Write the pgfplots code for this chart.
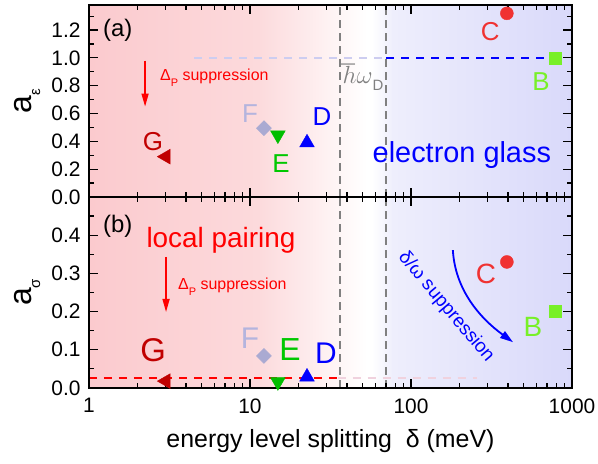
\documentclass[border=0pt]{standalone}
\usepackage{pgfplots}
\pgfplotsset{compat=1.18}
\usepackage{fontspec}
\setmainfont{Liberation Sans}
\usetikzlibrary{arrows.meta}
\newcommand{\fs}[1]{\fontsize{#1}{#1}\selectfont}
\definecolor{bgpink}{RGB}{251,202,206}
\definecolor{bgpinkmid}{RGB}{252,218,220}
\definecolor{bgbluestart}{RGB}{238,238,252}
\definecolor{bgblue}{RGB}{217,217,250}
\definecolor{cG}{RGB}{192,0,0}
\definecolor{cF}{RGB}{170,170,210}
\definecolor{cFt}{RGB}{180,180,222}
\definecolor{cE}{RGB}{0,190,0}
\definecolor{cEt}{RGB}{0,200,0}
\definecolor{cD}{RGB}{0,0,255}
\definecolor{cC}{RGB}{240,50,50}
\definecolor{cB}{RGB}{120,240,40}
\definecolor{dgray}{RGB}{128,128,128}
\definecolor{faintblue}{RGB}{205,205,240}
\definecolor{faintred}{RGB}{240,210,222}
\pgfplotsset{chartpanel/.style={
  scale only axis, width=483bp, xmin=1, xmax=1000,
  axis on top, clip=false,
  axis line style={line width=1.6bp},
  every tick/.style={line width=1.2bp, black},
  tick align=inside,
  major tick length=9bp, minor tick length=5bp,
  xtick={1,10,100,1000},
  minor xtick={2,3,4,5,6,7,8,9,20,30,40,50,60,70,80,90,200,300,400,500,600,700,800,900},
  ticklabel style={font=\fs{21}},
  xticklabel style={yshift=-7bp},
  /pgf/number format/assume math mode=true,
  yticklabel style={xshift=-5bp, /pgf/number format/.cd, fixed, fixed zerofill, precision=1},
  ylabel style={at={(axis description cs:-0.128,0.5)}, anchor=center},
}}
\newcommand{\bgshade}{%
  \shade[left color=bgpink, right color=bgpinkmid] (rel axis cs:0,0) rectangle (rel axis cs:0.35,1);
  \shade[left color=bgpinkmid, right color=white] (rel axis cs:0.349,0) rectangle (rel axis cs:0.575,1);
  \fill[white] (rel axis cs:0.574,0) rectangle (rel axis cs:0.586,1);
  \shade[left color=white, right color=bgbluestart] (rel axis cs:0.585,0) rectangle (rel axis cs:0.63,1);
  \shade[left color=bgbluestart, right color=bgblue] (rel axis cs:0.629,0) rectangle (rel axis cs:1,1);
}
\begin{document}
\begin{tikzpicture}
\begin{semilogxaxis}[chartpanel, name=top, height=192bp, ymin=0, ymax=1.38,
  ytick={0,0.2,0.4,0.6,0.8,1.0,1.2}, minor ytick={0.1,0.3,0.5,0.7,0.9,1.1,1.3},
  xticklabels={},
  ylabel={{\fs{32}a}\raisebox{-9bp}{\fs{15}ε}}]
  \bgshade
  \addplot[dgray, line width=2bp, dash pattern=on 8bp off 5bp] coordinates {(36,0) (36,1.38)};
  \addplot[dgray, line width=2bp, dash pattern=on 8bp off 5bp] coordinates {(70,0) (70,1.38)};
  \addplot[faintblue, line width=1.8bp, dash pattern=on 8bp off 7bp] coordinates {(4.5,1.0) (70,1.0)};
  \addplot[cD, line width=1.8bp, dash pattern=on 8bp off 7bp] coordinates {(70,1.0) (784,1.0)};
  \addplot[only marks, mark=triangle*, mark size=8.5bp, color=cG, mark options={rotate=90}] coordinates {(3.0,0.29)};
  \addplot[only marks, mark=square*, mark size=5.3bp, color=cF, mark options={rotate=45}] coordinates {(12.2,0.495)};
  \addplot[only marks, mark=triangle*, mark size=8.5bp, color=cE, mark options={rotate=180}] coordinates {(14.9,0.445)};
  \addplot[only marks, mark=triangle*, mark size=8.5bp, color=cD] coordinates {(22.6,0.39)};
  \addplot[only marks, mark=*, mark size=6.5bp, color=cC] coordinates {(394,1.32)};
  \addplot[only marks, mark=square*, mark size=6bp, color=cB] coordinates {(784,1.0)};
  \node[font=\fs{24}] at (axis cs:1.51,1.20) {(a)};
  \node[font=\fs{26}, text=cG] at (axis cs:2.5,0.40) {G};
  \node[font=\fs{26}, text=cFt] at (axis cs:10.0,0.60) {F};
  \node[font=\fs{26}, text=cEt] at (axis cs:15.6,0.24) {E};
  \node[font=\fs{26}, text=cD] at (axis cs:28,0.58) {D};
  \node[font=\fs{26}, text=cC] at (axis cs:310,1.19) {C};
  \node[font=\fs{26}, text=cB] at (axis cs:642,0.83) {B};
  \node[font=\fs{29}, text=cD] at (axis cs:207,0.30) {electron glass};
  \node[anchor=west, inner sep=0pt, text=dgray] at (axis cs:36.5,0.86) {\fs{26}$\hbar\omega$\raisebox{-7bp}{\fs{15}D}};
  \draw[red, line width=1.5bp, -{Triangle[length=13bp,width=7bp]}] (axis cs:2.23,0.98) -- (axis cs:2.23,0.65);
  \node[anchor=west, inner sep=0pt, text=red, font=\fs{16}] at (axis cs:2.76,0.86) {Δ\raisebox{-6bp}{\fs{11}P}\ suppression};
\end{semilogxaxis}
\begin{semilogxaxis}[chartpanel, at={(top.south west)}, anchor=north west, name=bot, height=191bp,
  ymin=0, ymax=0.5,
  ytick={0,0.1,0.2,0.3,0.4}, minor ytick={0.05,0.15,0.25,0.35,0.45},
  xticklabels={1,10,100,1000},
  xlabel={energy level splitting\ \ δ (meV)},
  xlabel style={font=\fs{25}, at={(axis description cs:0.5,0)}, anchor=center, yshift=-53bp},
  ylabel={{\fs{32}a}\raisebox{-9bp}{\fs{15}σ}}]
  \bgshade
  \addplot[dgray, line width=2bp, dash pattern=on 8bp off 5bp] coordinates {(36,0) (36,0.5)};
  \addplot[dgray, line width=2bp, dash pattern=on 8bp off 5bp] coordinates {(70,0) (70,0.5)};
  \addplot[faintred, line width=1.8bp, dash pattern=on 8bp off 7bp] coordinates {(35,0.026) (256,0.026)};
  \addplot[red, line width=1.8bp, dash pattern=on 8bp off 7bp] coordinates {(1,0.026) (35,0.026)};
  \addplot[only marks, mark=triangle*, mark size=8.5bp, color=cG, mark options={rotate=90}] coordinates {(3.0,0.018)};
  \addplot[only marks, mark=square*, mark size=5.3bp, color=cF, mark options={rotate=45}] coordinates {(12.2,0.084)};
  \addplot[only marks, mark=triangle*, mark size=8.5bp, color=cE, mark options={rotate=180}] coordinates {(14.9,0.016)};
  \addplot[only marks, mark=triangle*, mark size=8.5bp, color=cD] coordinates {(22.6,0.029)};
  \addplot[only marks, mark=*, mark size=6.5bp, color=cC] coordinates {(394,0.33)};
  \addplot[only marks, mark=square*, mark size=6bp, color=cB] coordinates {(784,0.2)};
  \node[font=\fs{24}] at (axis cs:1.51,0.424) {(b)};
  \node[font=\fs{28}, text=red] at (axis cs:6.6,0.387) {local pairing};
  \draw[red, line width=1.5bp, -{Triangle[length=13bp,width=7bp]}] (axis cs:3.01,0.343) -- (axis cs:3.01,0.199);
  \node[anchor=west, inner sep=0pt, text=red, font=\fs{16}] at (axis cs:3.57,0.264) {Δ\raisebox{-6bp}{\fs{11}P}\ suppression};
  \node[font=\fs{33}, text=cG] at (axis cs:2.5,0.10) {G};
  \node[font=\fs{30}, text=cFt] at (axis cs:10.0,0.131) {F};
  \node[font=\fs{32}, text=cEt] at (axis cs:17.7,0.10) {E};
  \node[font=\fs{30}, text=cD] at (axis cs:29.6,0.092) {D};
  \node[font=\fs{28}, text=cC] at (axis cs:292,0.30) {C};
  \node[font=\fs{28}, text=cB] at (axis cs:572,0.16) {B};
  \draw[cD, line width=1.8bp, -{Triangle[length=13bp,width=8bp]}] (axis cs:182,0.361) .. controls (axis cs:188,0.257) and (axis cs:268,0.183) .. (axis cs:430,0.120);
  \node[font=\fs{19}, text=cD, rotate=-50] at (axis cs:165,0.212) {δ/ω suppression};
\end{semilogxaxis}
\pgfresetboundingbox
\useasboundingbox (top.north west) ++(-89bp,5bp) rectangle ++(598bp,-464bp);
\end{tikzpicture}
\end{document}
